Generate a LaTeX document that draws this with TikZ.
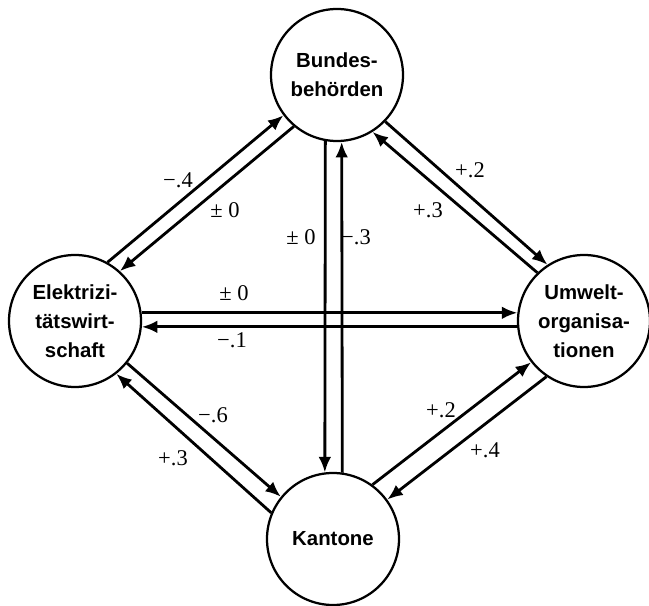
\documentclass[tikz,border=0pt]{standalone}
\usepackage{fontspec}
\setmainfont{Liberation Serif}
\setsansfont{Liberation Sans}
\usepackage{tikz}
\usetikzlibrary{arrows.meta}
\definecolor{figline}{RGB}{0,0,0}
\tikzset{
  org/.style ={circle, draw=figline, line width=1.6pt, minimum size=3.3cm, inner sep=0pt,
               align=center, font=\sffamily\bfseries\fontsize{14.5}{20.5}\selectfont},
  rel/.style ={draw=figline, line width=2pt, -{Latex[length=11pt,width=9pt]}},
  val/.style ={font=\fontsize{16}{18}\selectfont, inner sep=1pt},
}
\begin{document}
\begin{tikzpicture}
  \useasboundingbox (0,0) rectangle (16.225,15.125);
  % actors
  \node[org] (bund) at (8.425,13.25) {Bundes-\\behörden};
  \node[org] (elek) at (1.875,7.1) {Elektrizi-\\tätswirt-\\schaft};
  \node[org] (umwe) at (14.6,7.1) {Umwelt-\\organisa-\\tionen};
  \node[org] (kant) at (8.325,1.65) {Kantone};
  % relations
  \draw[rel] (elek.61) -- (bund.217);
  \draw[rel] (bund.230) -- (elek.48);
  \draw[rel] (bund.316) -- (umwe.123);
  \draw[rel] (umwe.134) -- (bund.302);
  \draw[rel] (elek.7) -- (umwe.173);
  \draw[rel] (umwe.185) -- (elek.355);
  \draw[rel] (bund.260) -- (kant.97);
  \draw[rel] (kant.82) -- (bund.274);
  \draw[rel] (elek.321) -- (kant.141);
  \draw[rel] (kant.157) -- (elek.308);
  \draw[rel] (kant.54) -- (umwe.218);
  \draw[rel] (umwe.236) -- (kant.36);
  % values
  \node[val] (vEB) at (4.45,10.625) {−.4};
  \node[val] (vBE) at (5.625,9.875) {± 0};
  \node[val] (vBU) at (11.75,10.875) {+.2};
  \node[val] (vUB) at (10.7,9.875) {+.3};
  \node[val] (vEU) at (5.85,7.8) {± 0};
  \node[val] (vUE) at (5.8,6.625) {−.1};
  \node[val] (vBK) at (7.525,9.2) {± 0};
  \node[val] (vKB) at (8.9,9.2) {−.3};
  \node[val] (vEK) at (5.325,4.75) {−.6};
  \node[val] (vKE) at (4.325,3.675) {+.3};
  \node[val] (vKU) at (11.025,4.875) {+.2};
  \node[val] (vUK) at (12.125,3.875) {+.4};
\end{tikzpicture}
\end{document}
